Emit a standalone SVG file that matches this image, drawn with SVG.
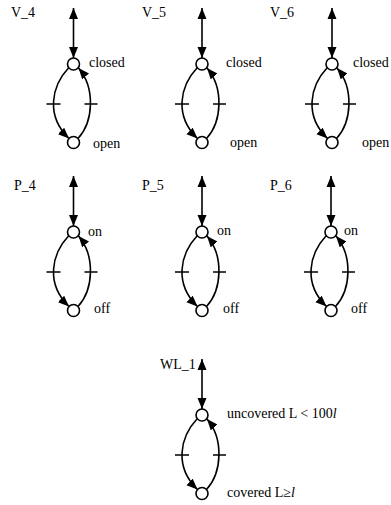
<svg xmlns="http://www.w3.org/2000/svg" width="391" height="505" viewBox="0 0 391 505">
<style>
text{font-family:"Liberation Serif","Times New Roman",serif;font-size:14px;fill:#000}
.ln{fill:none;stroke:#000;stroke-width:1.6}
.st{fill:#fff;stroke:#000;stroke-width:1.6}
.va{fill:none;stroke:#000;stroke-width:1.6;marker-start:url(#ah);marker-end:url(#ah)}
.cv{fill:none;stroke:#000;stroke-width:1.6;marker-end:url(#ah)}
</style>
<defs>
<marker id="ah" markerUnits="userSpaceOnUse" markerWidth="12" markerHeight="10" refX="11" refY="4.5" orient="auto-start-reverse" viewBox="0 0 12 9">
<path d="M0,0 L11,4.5 L0,9 Z" fill="#000"/>
</marker>
<g id="machine">
<path class="va" d="M0,-56 L0,-6"/>
<path class="cv" d="M-5,4 C-22,22 -28,52 -4.5,74.5"/>
<path class="cv" d="M4.5,74.5 C20,58 22,24 5,4"/>
<path class="ln" d="M-27,40 H-13 M11,40 H24"/>
<circle class="st" cx="0" cy="0" r="6"/>
<circle class="st" cx="0" cy="78.5" r="6"/>
</g>
</defs>
<g id="connectors">
<use href="#machine" x="73.5" y="64"/>
<use href="#machine" x="202" y="64"/>
<use href="#machine" x="332" y="64"/>
<use href="#machine" x="73.5" y="232"/>
<use href="#machine" x="202" y="232"/>
<use href="#machine" x="331" y="232"/>
<use href="#machine" x="202" y="415"/>
</g>
<g id="V_4"><text x="11" y="17">V_4</text><text x="89" y="67">closed</text><text x="93" y="148">open</text></g>
<g id="V_5"><text x="142" y="17">V_5</text><text x="226" y="67">closed</text><text x="230" y="147">open</text></g>
<g id="V_6"><text x="270" y="17">V_6</text><text x="353" y="67">closed</text><text x="362" y="147">open</text></g>
<g id="P_4"><text x="14" y="190">P_4</text><text x="88" y="236">on</text><text x="94" y="313">off</text></g>
<g id="P_5"><text x="142" y="190">P_5</text><text x="217" y="235">on</text><text x="223" y="313">off</text></g>
<g id="P_6"><text x="270" y="190">P_6</text><text x="344" y="235">on</text><text x="351" y="313">off</text></g>
<g id="WL_1"><text x="160" y="369" font-size="12">WL_1</text><text x="227" y="418" font-size="12.5">uncovered L &lt; 100<tspan font-style="italic">l</tspan></text><text x="227" y="497" font-size="13">covered L≥<tspan font-style="italic">l</tspan></text></g>
</svg>
